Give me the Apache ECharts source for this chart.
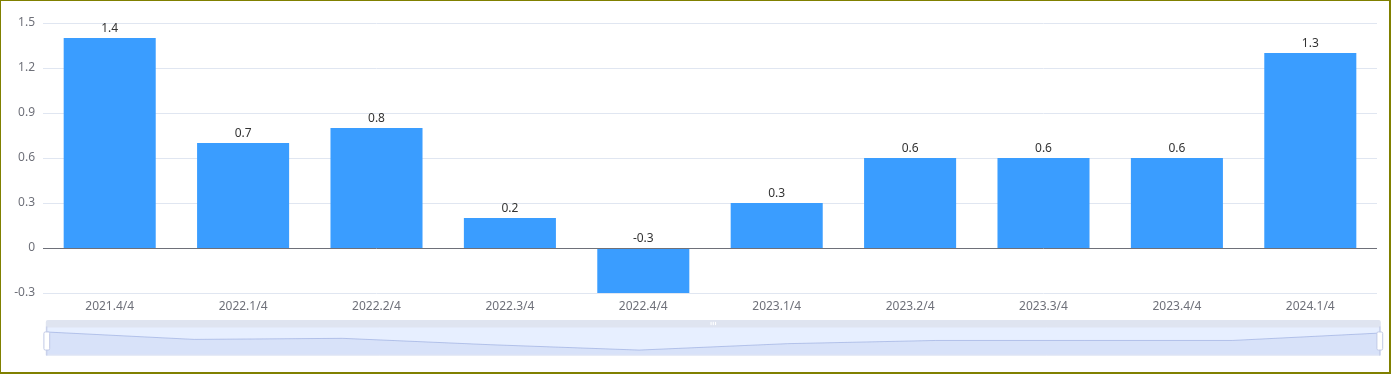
<!DOCTYPE html>
<html>
<head>
<meta charset="utf-8">
<style>
html,body{margin:0;padding:0;background:#fff;}
#wrap{width:1391px;height:374px;box-sizing:border-box;border-style:solid;border-color:#808000;border-width:1px 2px 2px 1px;position:relative;}
#chart{position:absolute;left:-1px;top:-1px;width:1391px;height:374px;}
</style>
<script src="https://cdn.jsdelivr.net/npm/echarts@6/dist/echarts.min.js"></script>
</head>
<body>
<div id="wrap"><div id="chart"></div></div>
<script>
const categories = ['2021.4/4','2022.1/4','2022.2/4','2022.3/4','2022.4/4','2023.1/4','2023.2/4','2023.3/4','2023.4/4','2024.1/4'];
const values = [1.4, 0.7, 0.8, 0.2, -0.3, 0.3, 0.6, 0.6, 0.6, 1.3];

const chart = echarts.init(document.getElementById('chart'));
chart.setOption({
  animation: false,
  textStyle: { fontFamily: 'Noto Sans, sans-serif' },
  grid: { left: 43, right: 14, top: 23, bottom: 81, containLabel: false },
  xAxis: {
    type: 'category',
    data: categories,
    axisLine: { show: false },
    axisTick: { show: false },
    axisLabel: { color: '#6e7079', fontSize: 12, margin: 8 }
  },
  yAxis: {
    type: 'value',
    min: -0.3, max: 1.5, interval: 0.3,
    axisLabel: { color: '#6e7079', fontSize: 12 },
    splitLine: { lineStyle: { color: '#e0e6f1' } }
  },
  dataZoom: [{
    type: 'slider',
    start: 0, end: 100,
    left: 43, right: 13, bottom: 25, height: 29,
    showDetail: false,
    moveHandleStyle: { color: '#dfe4f0', opacity: 1 }
  }],
  series: [{
    type: 'bar',
    data: values,
    barWidth: '69%',
    itemStyle: { color: '#3a9dff' },
    label: { show: true, position: 'top', distance: 3, color: '#333', fontSize: 12 },
    markLine: {
      silent: true,
      symbol: 'none',
      label: { show: false },
      lineStyle: { color: '#6e7079', type: 'solid', width: 1 },
      data: [{ yAxis: 0 }]
    }
  }]
});
</script>
</body>
</html>
